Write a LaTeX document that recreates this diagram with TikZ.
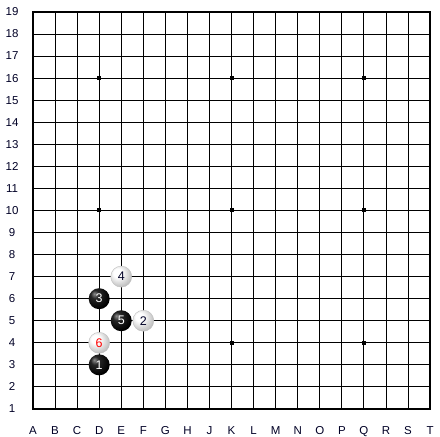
\documentclass[tikz,border=0pt]{standalone}
\usepackage{fontspec}
\setmainfont{Liberation Sans}
\usepackage{tikz}
\usetikzlibrary{positioning}
\usepackage{xcolor}

% stone shadings
\pgfdeclareradialshading{blackstone}{\pgfpoint{-12bp}{12bp}}{color(0bp)=(black!45); color(10bp)=(black!85); color(30bp)=(black); color(70bp)=(black!90)}
\pgfdeclareradialshading{whitestone}{\pgfpoint{-10bp}{10bp}}{color(0bp)=(white); color(10bp)=(white); color(30bp)=(black!25); color(45bp)=(black!45); color(70bp)=(black!55)}

\begin{document}
\begin{tikzpicture}[
    x=22.06pt, y=22.06pt,
    grid/.style={line width=0.9pt},
    border/.style={line width=2pt},
    hoshi/.style={rectangle, fill=black, minimum size=4pt, inner sep=0pt},
    coord/.style={font=\fontsize{11.5}{12}\selectfont, text=black!85!blue, inner sep=0pt},
    bstone/.style={circle, shading=blackstone, minimum size=21pt, inner sep=0pt, text=white, font=\fontsize{12.5}{13}\selectfont},
    wstone/.style={circle, shading=whitestone, draw=black!25, line width=0.4pt, minimum size=21pt, inner sep=0pt, text=black!85!blue, font=\fontsize{12.5}{13}\selectfont}
]
    \useasboundingbox[fill=white] (-1.496,-1.269) rectangle (18.45,18.54);

    % 棋盘
    \foreach \i in {1,...,17} {
        \draw[grid] (\i,0) -- (\i,18);
        \draw[grid] (0,\i) -- (18,\i);
    }
    \draw[border] (0,0) rectangle (18,18);

    % 星位
    \foreach \x in {3,9,15}
        \foreach \y in {3,9,15}
            \node[hoshi] (h\x\y) at (\x,\y) {};

    % 坐标
    \foreach \l [count=\i from 0] in {A,B,C,D,E,F,G,H,J,K,L,M,N,O,P,Q,R,S,T}
        \node[coord, text height=8pt, text depth=0pt] (col\l) at (\i,-0.99) {\l};
    \foreach \n in {1,...,19}
        \node[coord] (row\n) at (-0.95,\n-1) {\n};

    % 棋子
    \node[bstone] (m1) at (3,2) {1};
    \node[wstone] (m2) at (5,4) {2};
    \node[bstone] (m3) at (3,5) {3};
    \node[wstone] (m4) at (4,6) {4};
    \node[bstone] (m5) at (4,4) {5};
    \node[wstone, text=red] (m6) at (3,3) {6};
\end{tikzpicture}
\end{document}
